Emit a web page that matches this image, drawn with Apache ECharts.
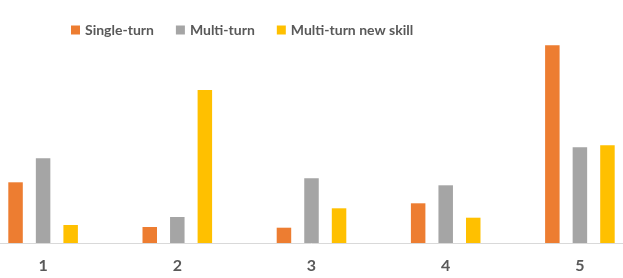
<!DOCTYPE html>
<html><head><meta charset="utf-8">
<script src="https://cdn.jsdelivr.net/npm/echarts@6/dist/echarts.min.js"></script>
<style>html,body{margin:0;padding:0;background:#fff}#c{width:623px;height:278px}</style>
</head><body><div id="c"></div>
<script>
const categories = ['1', '2', '3', '4', '5'];
const seriesNames = ['Single-turn', 'Multi-turn', 'Multi-turn new skill'];
const singleTurn = [60.7, 16, 15.3, 39.7, 197.7];
const multiTurn = [84.7, 26, 64.7, 57.7, 95.7];
const multiTurnNewSkill = [18, 153, 34.7, 25.3, 97.7];
const colors = ['#ED7D31', '#A5A5A5', '#FFC000'];

const chart = echarts.init(document.getElementById('c'), null, {renderer: 'canvas'});
const font = 'Lato, "Liberation Sans", Arial, sans-serif';
chart.setOption({
  animation: false,
  color: colors,
  legend: {
    left: 71, top: 23, padding: 0,
    itemWidth: 9, itemHeight: 9, itemGap: 22,
    icon: 'rect',
    textStyle: {fontFamily: font, fontWeight: 'bold', fontSize: 14, color: '#595959'},
    data: seriesNames
  },
  grid: {left: -24, right: -24, top: 43, bottom: 35, containLabel: false, outerBoundsMode: 'none'},
  xAxis: {
    type: 'category', data: categories,
    axisLine: {lineStyle: {color: '#D9D9D9', width: 1}},
    axisTick: {show: false},
    axisLabel: {fontFamily: font, fontWeight: 'bold', fontSize: 16, color: '#595959', margin: 15}
  },
  yAxis: {type: 'value', min: 0, max: 200, show: false, splitLine: {show: false}},
  series: [
    {name: seriesNames[0], type: 'bar', data: singleTurn, barWidth: 14.5, barGap: '90%'},
    {name: seriesNames[1], type: 'bar', data: multiTurn, barWidth: 14.5, barGap: '90%'},
    {name: seriesNames[2], type: 'bar', data: multiTurnNewSkill, barWidth: 14.5, barGap: '90%'}
  ]
});
</script></body></html>
